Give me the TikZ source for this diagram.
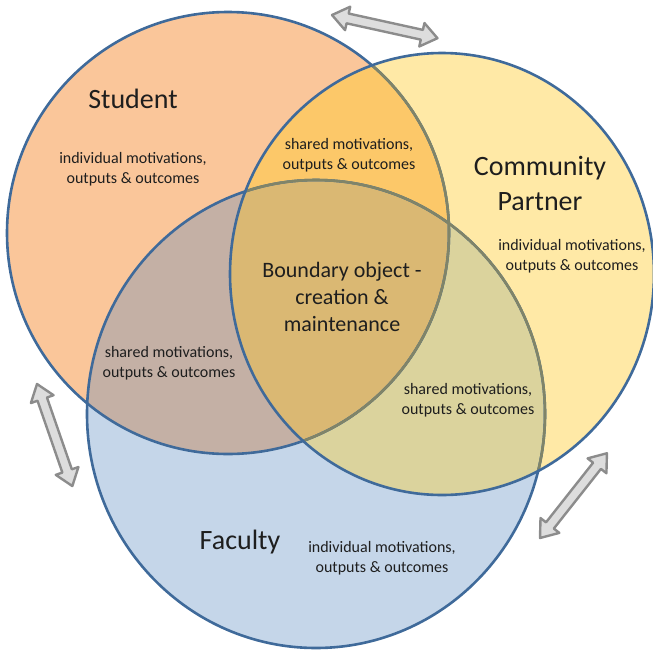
\documentclass[tikz,border=0pt]{standalone}
\usepackage{fontspec}
\setmainfont{Carlito}
\definecolor{cS}{RGB}{250,198,154}
\definecolor{cC}{RGB}{255,233,166}
\definecolor{cF}{RGB}{197,214,233}
\definecolor{cSC}{RGB}{252,200,105}
\definecolor{cSF}{RGB}{196,176,165}
\definecolor{cCF}{RGB}{219,211,157}
\definecolor{cSCF}{RGB}{218,184,115}
\definecolor{bline}{RGB}{63,106,154}
\definecolor{oline}{RGB}{128,132,104}
\definecolor{arrfill}{RGB}{221,221,221}
\definecolor{arrdraw}{RGB}{140,140,140}
\definecolor{txt}{RGB}{30,30,30}
\tikzset{
  blueline/.style={draw=bline,line width=2.6pt},
  oliveline/.style={draw=oline,line width=2.6pt},
  bigtext/.style={text=txt,font=\fontsize{28}{35}\selectfont,align=center,inner sep=0pt},
  smalltext/.style={text=txt,font=\fontsize{16}{20}\selectfont,align=center,inner sep=0pt},
  midtext/.style={text=txt,font=\fontsize{22}{27}\selectfont,align=center,inner sep=0pt},
  arrowline/.style={draw=arrdraw,fill=arrfill,line width=2.4pt,line join=round},
  barrow/.pic={\path[arrowline] (0,0) -- (16,-12) -- (16,-5) -- (92,-5) -- (92,-12) -- (108,0) -- (92,12) -- (92,5) -- (16,5) -- (16,12) -- cycle;}
}
\begin{document}
\begin{tikzpicture}[x=1pt,y=-1pt]
\useasboundingbox (0,0) rectangle (653,651);
\clip (0,0) rectangle (653,651);
\def\pathS{(228,233) circle [radius=221]}
\def\pathC{(442,274) ellipse [x radius=212, y radius=221]}
\def\pathF{(316,414) ellipse [x radius=229, y radius=234]}
% fills
\fill[cS] \pathS;
\fill[cF] \pathF;
\fill[cC] \pathC;
\begin{scope}
  \clip \pathC;
  \fill[cCF] \pathF;
\end{scope}
\begin{scope}
  \clip \pathS;
  \fill[cSF] \pathF;
  \fill[cSC] \pathC;
  \clip \pathC;
  \fill[cSCF] \pathF;
\end{scope}
% outlines
\path[blueline] \pathS;
\path[blueline] \pathF;
\begin{scope}
  \clip \pathC;
  \path[oliveline] \pathS;
  \path[oliveline] \pathF;
\end{scope}
\path[blueline] \pathC;
% arrows
\pic (arrTop) [rotate=-12.4] at (332,15) {barrow};
\pic (arrLeft) [rotate=-70.9] at (37,384) {barrow};
\pic (arrRight) [rotate=51.7] at (540,538) {barrow};
% texts
\node[bigtext] (student) at (133,99) {Student};
\node[smalltext] (studentInd) at (133,169) {individual motivations,\\outputs \& outcomes};
\node[smalltext] (sharedSC) at (349,155) {shared motivations,\\outputs \& outcomes};
\node[bigtext] (partner) at (540,183) {Community\\Partner};
\node[smalltext] (partnerInd) at (572,256) {individual motivations,\\outputs \& outcomes};
\node[midtext] (boundary) at (342,297) {Boundary object -\\creation \&\\maintenance};
\node[smalltext] (sharedSF) at (169,363) {shared motivations,\\outputs \& outcomes};
\node[smalltext] (sharedCF) at (468,400) {shared motivations,\\outputs \& outcomes};
\node[bigtext] (faculty) at (240,542) {Faculty};
\node[smalltext] (facultyInd) at (382,558) {individual motivations,\\outputs \& outcomes};
\end{tikzpicture}
\end{document}
